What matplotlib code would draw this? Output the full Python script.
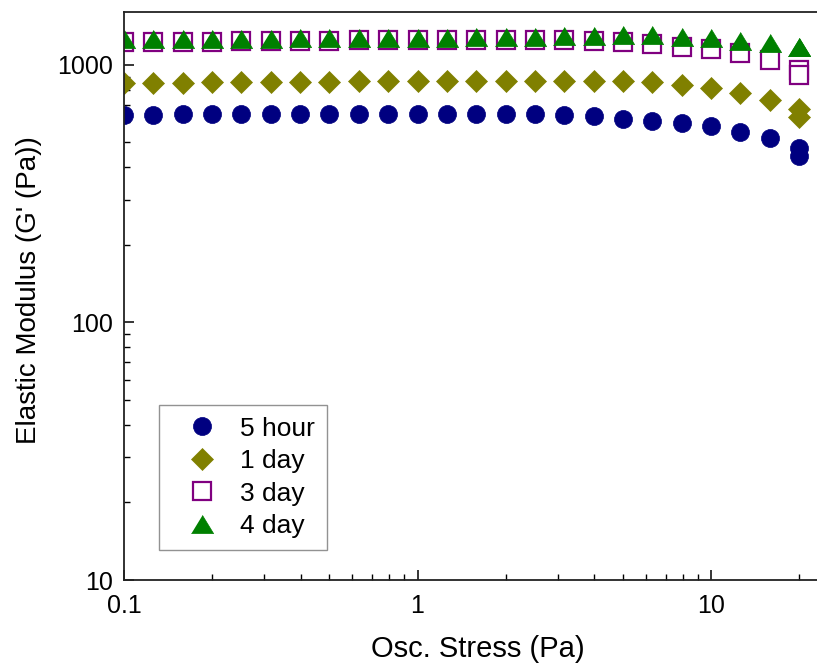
import matplotlib
matplotlib.use("Agg")
import matplotlib.pyplot as plt
from matplotlib.ticker import LogLocator, NullFormatter, FixedLocator, FixedFormatter

plt.rcParams['font.family'] = ['Liberation Sans', 'DejaVu Sans']

# Osc. stress (Pa), 10 points per decade, last point measured twice
stress = [0.1, 0.1259, 0.1585, 0.1995, 0.2512, 0.3162, 0.3981, 0.5012, 0.631, 0.7943,
          1.0, 1.259, 1.585, 1.995, 2.512, 3.162, 3.981, 5.012, 6.31, 7.943,
          10.0, 12.59, 15.85, 19.95, 19.96]

g_5hour = [640, 641, 642, 642, 643, 643, 644, 644, 644, 644,
           644, 644, 643, 643, 642, 638, 632, 616, 603, 596,
           577, 551, 520, 476, 441]
g_1day = [850, 852, 853, 855, 857, 858, 860, 861, 862, 863,
          864, 866, 867, 867, 867, 866, 865, 862, 857, 837,
          812, 781, 732, 673, 626]
g_3day = [1225, 1228, 1230, 1232, 1235, 1237, 1240, 1242, 1244, 1246,
          1248, 1249, 1250, 1250, 1249, 1245, 1239, 1231, 1206, 1178,
          1150, 1110, 1045, 954, 911]
g_4day = [1258, 1260, 1262, 1263, 1264, 1265, 1266, 1267, 1268, 1270,
          1272, 1275, 1278, 1282, 1287, 1292, 1300, 1307, 1307, 1288,
          1269, 1243, 1213, 1178, 1175]

labels = ["5 hour", "1 day", "3 day", "4 day"]

tri = [(-1, -0.82), (1, -0.82), (0, 0.82)]

fig = plt.figure(figsize=(8.17, 6.67), dpi=100)
ax = fig.add_axes([124 / 817, 87 / 667, 693 / 817, 568 / 667])

ax.plot(stress, g_5hour, 'o', color='#000080', ms=13, mec='#000080', mew=0.5, ls='none', label=labels[0])
ax.plot(stress, g_1day, 'D', color='#808000', ms=11.2, mec='#808000', mew=0.5, ls='none', label=labels[1])
ax.plot(stress, g_3day, 's', mfc='white', mec='#800080', ms=13, mew=1.6, ls='none', label=labels[2])
ax.plot(stress, g_4day, marker=tri, color='#008000', ms=16, mec='#008000', mew=0.5, ls='none', label=labels[3])

ax.set_xscale('log')
ax.set_yscale('log')
ax.set_xlim(0.1, 22.96)
ax.set_ylim(10, 1604)

ax.xaxis.set_major_locator(FixedLocator([0.1, 1, 10]))
ax.xaxis.set_major_formatter(FixedFormatter(['0.1', '1', '10']))
ax.yaxis.set_major_locator(FixedLocator([10, 100, 1000]))
ax.yaxis.set_major_formatter(FixedFormatter(['10', '100', '1000']))
ax.xaxis.set_minor_locator(LogLocator(base=10, subs=range(2, 10)))
ax.yaxis.set_minor_locator(LogLocator(base=10, subs=range(2, 10)))
ax.xaxis.set_minor_formatter(NullFormatter())
ax.yaxis.set_minor_formatter(NullFormatter())

ax.tick_params(which='major', direction='in', length=7.5, width=1.1, labelsize=18, pad=8,
               top=False, right=False)
ax.tick_params(which='minor', direction='in', length=4.5, width=1.0, top=False, right=False)
ax.tick_params(axis='x', which='major', pad=10)

for s in ['left', 'bottom', 'top']:
    ax.spines[s].set_linewidth(1.3)
    ax.spines[s].set_color('#222222')
ax.spines['right'].set_visible(False)

ax.set_xlabel('Osc. Stress (Pa)', fontsize=21)
ax.set_ylabel("Elastic Modulus (G' (Pa))", fontsize=20)
ax.xaxis.set_label_coords(0.51, -0.097)
ax.yaxis.set_label_coords(-0.119, 0.51)

leg = ax.legend(loc='lower left', bbox_to_anchor=(0.05, 0.053), borderaxespad=0,
                fontsize=19, frameon=True, fancybox=False, numpoints=1,
                handlelength=2.4, handletextpad=0.25, labelspacing=0.32, borderpad=0.45)
leg.get_frame().set_edgecolor('#777777')
leg.get_frame().set_linewidth(1.0)

fig.savefig('out.png', dpi=100)
